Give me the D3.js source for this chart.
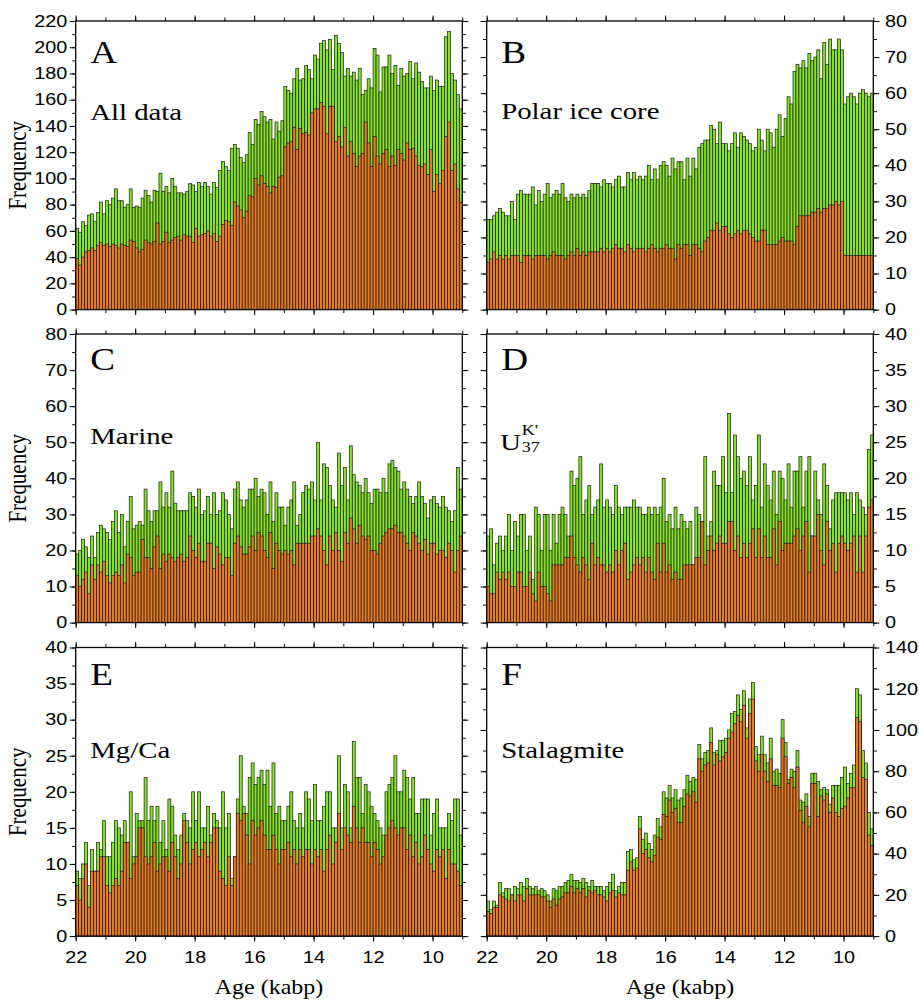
<!DOCTYPE html>
<html>
<head>
<meta charset="utf-8">
<script src="https://cdn.jsdelivr.net/npm/d3@7"></script>
<style>
  html, body { margin: 0; padding: 0; background: #ffffff; }
  svg { display: block; }
</style>
</head>
<body>
<svg id="chart" width="919" height="1000"></svg>
<script>
// ---------------- DATA ----------------
// 130 bins of 0.1 kyr, from 22 kabp (left) to 9 kabp (right)
const ageStart = 22, ageEnd = 9, binWidth = 0.1, binCount = 130;
const xTickLabels = [22, 20, 18, 16, 14, 12, 10];

// A  All data  (green = total, orange = subset)
const allDataTotal = [
  62, 59, 67, 64, 72, 73, 67, 74, 82, 73,
  83, 80, 85, 92, 83, 83, 78, 80, 92, 78,
  79, 78, 85, 91, 87, 82, 91, 90, 104, 90,
  94, 89, 100, 94, 89, 89, 88, 90, 96, 95,
  90, 97, 94, 97, 94, 88, 97, 93, 106, 113,
  109, 106, 123, 126, 123, 116, 112, 118, 135, 126,
  145, 141, 151, 147, 143, 145, 130, 143, 136, 144,
  170, 167, 165, 176, 184, 175, 176, 186, 183, 176,
  194, 191, 203, 205, 198, 206, 183, 209, 203, 196,
  178, 184, 178, 181, 175, 184, 164, 167, 176, 169,
  199, 194, 166, 185, 185, 194, 180, 186, 171, 184,
  178, 180, 189, 176, 188, 181, 174, 169, 169, 178,
  167, 175, 170, 170, 208, 212, 180, 175, 164, 153
];
const allDataOrange = [
  39, 34, 40, 44, 45, 47, 45, 49, 51, 49,
  50, 48, 50, 49, 47, 50, 49, 48, 53, 52,
  47, 44, 46, 53, 51, 50, 52, 66, 50, 52,
  59, 51, 53, 55, 56, 53, 57, 56, 56, 51,
  62, 56, 57, 58, 60, 56, 58, 52, 56, 65,
  68, 67, 64, 82, 79, 76, 70, 75, 87, 86,
  100, 95, 102, 96, 94, 89, 94, 93, 101, 102,
  124, 127, 128, 139, 122, 138, 134, 135, 133, 150,
  153, 153, 158, 155, 134, 155, 155, 128, 132, 124,
  139, 117, 128, 119, 109, 117, 119, 143, 127, 109,
  132, 117, 111, 119, 122, 109, 117, 110, 122, 119,
  114, 127, 122, 123, 117, 110, 109, 111, 103, 122,
  90, 103, 96, 106, 132, 143, 106, 111, 92, 82
];

// B  Polar ice core
const polarTotal = [
  25, 25, 26, 27, 28, 27, 26, 26, 30, 25,
  32, 33, 32, 32, 32, 34, 29, 33, 30, 32,
  35, 31, 32, 33, 32, 35, 31, 30, 32, 31,
  32, 31, 32, 31, 33, 35, 35, 35, 34, 36,
  35, 35, 34, 36, 37, 34, 34, 38, 36, 38,
  36, 37, 36, 37, 40, 36, 39, 36, 40, 41,
  40, 37, 42, 39, 41, 41, 36, 42, 37, 42,
  39, 45, 46, 47, 47, 51, 50, 46, 52, 46,
  46, 44, 46, 49, 45, 49, 48, 47, 46, 44,
  45, 50, 47, 44, 50, 49, 45, 50, 54, 48,
  53, 59, 57, 66, 68, 67, 69, 67, 71, 69,
  70, 72, 64, 74, 68, 75, 72, 72, 75, 72,
  57, 59, 60, 59, 57, 60, 61, 60, 59, 60
];
const polarOrange = [
  13, 14, 16, 14, 15, 14, 15, 14, 15, 15,
  15, 13, 15, 15, 15, 14, 15, 15, 15, 15,
  14, 15, 16, 15, 15, 15, 14, 15, 16, 15,
  17, 15, 16, 15, 16, 16, 16, 16, 17, 16,
  17, 16, 17, 18, 17, 17, 16, 18, 17, 16,
  17, 17, 17, 16, 17, 18, 17, 16, 17, 17,
  18, 17, 17, 14, 18, 17, 18, 18, 15, 18,
  18, 17, 16, 19, 20, 22, 22, 24, 22, 23,
  23, 21, 20, 21, 22, 21, 22, 22, 21, 20,
  19, 19, 22, 22, 18, 18, 18, 18, 19, 20,
  19, 19, 19, 18, 23, 26, 26, 26, 26, 27,
  27, 28, 27, 28, 28, 29, 29, 30, 29, 30,
  15, 15, 15, 15, 15, 15, 15, 15, 15, 15
];

// C  Marine
const marineTotal = [
  19, 20, 23, 21, 18, 24, 18, 25, 27, 26,
  25, 23, 28, 31, 25, 30, 21, 28, 35, 26,
  27, 28, 27, 37, 31, 28, 31, 31, 39, 32,
  36, 32, 42, 33, 31, 31, 31, 31, 36, 35,
  32, 37, 30, 31, 35, 30, 36, 30, 31, 36,
  34, 30, 26, 37, 39, 34, 32, 34, 37, 37,
  40, 35, 37, 36, 30, 39, 28, 36, 32, 32,
  27, 32, 34, 39, 27, 30, 36, 38, 37, 39,
  34, 50, 34, 44, 43, 38, 34, 32, 47, 38,
  43, 34, 49, 41, 39, 38, 36, 40, 36, 33,
  37, 37, 36, 40, 36, 44, 45, 43, 42, 37,
  39, 37, 35, 33, 35, 39, 35, 33, 29, 34,
  35, 33, 32, 35, 32, 31, 28, 31, 43, 37
];
const marineOrange = [
  13, 10, 12, 14, 8, 16, 12, 16, 14, 17,
  13, 11, 13, 14, 13, 16, 11, 19, 18, 13,
  14, 14, 23, 18, 18, 15, 21, 24, 15, 19,
  17, 19, 18, 17, 18, 19, 17, 18, 24, 20,
  18, 22, 17, 17, 22, 22, 15, 21, 19, 16,
  18, 18, 13, 22, 24, 21, 19, 19, 21, 24,
  20, 25, 24, 20, 18, 25, 15, 22, 20, 19,
  20, 19, 20, 16, 22, 22, 22, 22, 22, 24,
  24, 26, 24, 20, 16, 24, 20, 25, 20, 17,
  25, 22, 29, 26, 22, 27, 24, 23, 24, 20,
  20, 19, 22, 24, 25, 26, 26, 27, 25, 25,
  24, 22, 20, 25, 24, 22, 20, 23, 19, 22,
  22, 19, 20, 20, 18, 22, 20, 14, 20, 24
];

// D  U37K'
const uk37Total = [
  12, 13, 8, 11, 12, 10, 12, 15, 10, 14,
  12, 15, 15, 10, 12, 6, 16, 15, 10, 15,
  15, 10, 15, 11, 15, 16, 15, 12, 21, 19,
  20, 23, 15, 17, 19, 15, 16, 17, 22, 16,
  17, 16, 15, 19, 16, 15, 16, 16, 16, 17,
  16, 16, 15, 15, 16, 15, 16, 15, 16, 20,
  14, 15, 13, 16, 13, 15, 14, 13, 14, 8,
  16, 15, 14, 23, 12, 14, 21, 19, 19, 23,
  18, 29, 18, 26, 23, 20, 21, 19, 23, 17,
  19, 26, 16, 22, 19, 17, 21, 15, 21, 20,
  17, 22, 16, 21, 21, 23, 16, 21, 23, 12,
  21, 17, 15, 22, 19, 13, 17, 18, 18, 18,
  18, 17, 18, 15, 18, 17, 16, 15, 24, 26
];
const uk37Orange = [
  5, 4, 4, 7, 6, 7, 6, 7, 5, 5,
  7, 7, 5, 5, 7, 4, 3, 7, 5, 5,
  4, 3, 8, 8, 8, 8, 9, 9, 12, 9,
  8, 7, 9, 8, 6, 11, 8, 9, 8, 8,
  7, 8, 7, 10, 8, 10, 11, 6, 7, 8,
  9, 8, 9, 7, 9, 7, 6, 11, 7, 11,
  7, 8, 6, 7, 6, 6, 8, 8, 8, 8,
  9, 9, 14, 8, 10, 12, 10, 11, 12, 11,
  11, 14, 14, 10, 12, 9, 11, 9, 11, 13,
  9, 13, 9, 12, 9, 9, 13, 8, 14, 10,
  11, 11, 11, 12, 13, 10, 12, 14, 7, 12,
  12, 15, 10, 8, 14, 10, 11, 7, 11, 12,
  11, 10, 11, 12, 7, 12, 7, 12, 16, 17
];

// E  Mg/Ca
const mgcaTotal = [
  9, 8, 10, 13, 7, 12, 9, 13, 12, 16,
  11, 11, 13, 16, 15, 14, 16, 13, 20, 11,
  17, 16, 16, 22, 16, 18, 16, 18, 13, 16,
  12, 19, 18, 14, 12, 14, 17, 16, 15, 20,
  16, 20, 15, 15, 18, 14, 17, 16, 15, 20,
  15, 17, 8, 11, 19, 25, 18, 17, 22, 24,
  21, 22, 23, 21, 23, 18, 24, 17, 18, 16,
  16, 18, 20, 16, 15, 17, 15, 20, 19, 16,
  21, 16, 16, 18, 20, 20, 15, 15, 25, 15,
  21, 20, 15, 27, 22, 22, 17, 21, 20, 18,
  17, 16, 15, 14, 20, 21, 22, 25, 20, 20,
  23, 22, 19, 22, 17, 17, 19, 19, 19, 14,
  17, 19, 15, 15, 15, 17, 16, 19, 19, 14
];
const mgcaOrange = [
  7, 5, 8, 10, 4, 9, 9, 9, 11, 11,
  7, 6, 7, 8, 7, 9, 13, 13, 8, 10,
  11, 15, 15, 11, 10, 11, 13, 9, 10, 11,
  11, 9, 13, 11, 8, 10, 16, 13, 10, 12,
  13, 11, 12, 13, 11, 13, 15, 15, 9, 8,
  7, 11, 7, 11, 17, 16, 17, 14, 10, 16,
  14, 15, 16, 14, 12, 12, 14, 12, 10, 12,
  12, 13, 11, 12, 10, 12, 11, 12, 12, 10,
  12, 11, 12, 9, 12, 14, 10, 13, 17, 12,
  15, 14, 13, 18, 15, 13, 15, 13, 13, 11,
  13, 12, 10, 11, 14, 15, 16, 15, 14, 15,
  15, 12, 14, 11, 13, 10, 11, 14, 12, 10,
  9, 12, 11, 12, 8, 12, 10, 10, 9, 7
];

// F  Stalagmite
const stalagTotal = [
  17, 13, 17, 15, 26, 21, 23, 23, 20, 24,
  23, 26, 24, 28, 24, 23, 24, 22, 23, 22,
  20, 17, 23, 22, 24, 24, 26, 27, 30, 27,
  27, 26, 28, 26, 24, 27, 24, 24, 24, 22,
  24, 26, 30, 22, 24, 26, 26, 41, 42, 37,
  38, 58, 47, 50, 45, 42, 49, 57, 53, 70,
  67, 73, 67, 71, 66, 67, 71, 78, 75, 77,
  76, 93, 86, 89, 90, 101, 89, 90, 95, 95,
  96, 100, 108, 109, 117, 110, 119, 101, 115, 123,
  92, 88, 97, 88, 84, 96, 80, 81, 79, 105,
  94, 76, 81, 80, 90, 66, 65, 69, 58, 79,
  79, 75, 71, 72, 71, 64, 73, 73, 73, 77,
  82, 74, 79, 83, 120, 117, 90, 84, 60, 52
];
const stalagOrange = [
  12, 11, 14, 14, 20, 19, 18, 17, 20, 17,
  20, 20, 17, 23, 20, 20, 20, 20, 19, 19,
  17, 14, 18, 15, 18, 19, 21, 21, 24, 21,
  23, 21, 23, 19, 22, 21, 22, 20, 20, 19,
  17, 21, 22, 19, 21, 20, 20, 32, 36, 32,
  33, 52, 40, 42, 38, 36, 39, 48, 47, 59,
  58, 66, 60, 62, 55, 55, 63, 69, 68, 70,
  65, 86, 80, 83, 84, 94, 83, 88, 85, 87,
  89, 96, 99, 103, 107, 104, 112, 96, 108, 115,
  85, 80, 88, 80, 75, 86, 73, 73, 72, 96,
  87, 74, 77, 72, 82, 61, 55, 63, 53, 74,
  74, 58, 68, 66, 69, 60, 67, 60, 58, 62,
  63, 67, 72, 72, 106, 104, 77, 76, 49, 44
];

// y tick labels per panel
const yTicksA = [0, 20, 40, 60, 80, 100, 120, 140, 160, 180, 200, 220];
const yTicksB = [0, 10, 20, 30, 40, 50, 60, 70, 80];
const yTicksC = [0, 10, 20, 30, 40, 50, 60, 70, 80];
const yTicksD = [0, 5, 10, 15, 20, 25, 30, 35, 40];
const yTicksE = [0, 5, 10, 15, 20, 25, 30, 35, 40];
const yTicksF = [0, 20, 40, 60, 80, 100, 120, 140];

// ---------------- LAYOUT / STYLE ----------------
const GREEN = "#84e324", ORANGE = "#ea7a20", STROKE = "#1c1c1c";
const SX = 1.2;   // horizontal stretch of the lettering
const sans = "'Liberation Sans', Arial, Helvetica, sans-serif";
const serif = "'Liberation Serif', 'Times New Roman', Times, serif";
const colLeft = [75.7, 486.7], panelW = 386.6;
const rowTop = [21, 334, 647.5], panelH = 288.6;

const panels = [
  { letter: "A", title: "All data",       col: 0, row: 0, ticks: yTicksA, minor: 10,  total: allDataTotal, part: allDataOrange, letterY: 63,  titleY: 119.5 },
  { letter: "B", title: "Polar ice core", col: 1, row: 0, ticks: yTicksB, minor: 5,   total: polarTotal,   part: polarOrange,   letterY: 63,  titleY: 119 },
  { letter: "C", title: "Marine",         col: 0, row: 1, ticks: yTicksC, minor: 5,   total: marineTotal,  part: marineOrange,  letterY: 370, titleY: 443.5 },
  { letter: "D", title: null,             col: 1, row: 1, ticks: yTicksD, minor: 2.5, total: uk37Total,    part: uk37Orange,    letterY: 370, titleY: 449.5 },
  { letter: "E", title: "Mg/Ca",          col: 0, row: 2, ticks: yTicksE, minor: 2.5, total: mgcaTotal,    part: mgcaOrange,    letterY: 685, titleY: 757.5 },
  { letter: "F", title: "Stalagmite",     col: 1, row: 2, ticks: yTicksF, minor: 10,  total: stalagTotal,  part: stalagOrange,  letterY: 685, titleY: 757.5 }
];

const svg = d3.select("#chart");
const binStarts = d3.range(binCount).map(i => ageStart - i * binWidth);

function stretchedText(parent, x, y, str, size, family, anchor) {
  return parent.append("text")
    .attr("transform", `translate(${x},${y}) scale(${SX},1)`)
    .attr("font-family", family)
    .attr("font-size", size)
    .attr("text-anchor", anchor || "start")
    .attr("fill", "#000")
    .text(str);
}

function styleAxis(ax) {
  ax.select(".domain").remove();
  ax.selectAll(".tick line").attr("stroke", "#000").attr("stroke-width", 1);
  ax.attr("font-family", sans).attr("font-size", 16.5);
  ax.selectAll(".tick text").attr("fill", "#000");
}

panels.forEach(p => {
  const x0 = colLeft[p.col], y0 = rowTop[p.row];
  const x = d3.scaleLinear().domain([ageStart, ageEnd]).range([x0, x0 + panelW]);
  const yMax = p.ticks[p.ticks.length - 1];
  const y = d3.scaleLinear().domain([0, yMax]).range([y0 + panelH, y0]);
  const rows = binStarts.map((a, i) => ({ a, t: p.total[i], s: p.part[i] }));
  const g = svg.append("g");

  // bars: total (green) then subset (orange) on top
  g.selectAll("rect.total").data(rows).join("rect")
    .attr("class", "total")
    .attr("x", d => x(d.a)).attr("width", d => x(d.a - binWidth) - x(d.a))
    .attr("y", d => y(d.t)).attr("height", d => y(0) - y(d.t))
    .attr("fill", GREEN).attr("stroke", STROKE).attr("stroke-width", 0.7);
  g.selectAll("rect.part").data(rows).join("rect")
    .attr("class", "part")
    .attr("x", d => x(d.a)).attr("width", d => x(d.a - binWidth) - x(d.a))
    .attr("y", d => y(d.s)).attr("height", d => y(0) - y(d.s))
    .attr("fill", ORANGE).attr("stroke", STROKE).attr("stroke-width", 0.7);

  // frame
  g.append("rect").attr("x", x0).attr("y", y0).attr("width", panelW).attr("height", panelH)
    .attr("fill", "none").attr("stroke", "#000").attr("stroke-width", 1.3);

  // y axes
  const yMinor = d3.range(0, yMax + 1e-9, p.minor);
  [["L", x0], ["R", x0 + panelW]].forEach(([side, xp]) => {
    const gen = side === "L" ? d3.axisLeft : d3.axisRight;
    const mn = g.append("g").attr("transform", `translate(${xp},0)`)
      .call(gen(y).tickValues(yMinor).tickSize(3.5).tickSizeOuter(0).tickFormat(""));
    styleAxis(mn);
    const labelled = (side === "L" && p.col === 0) || (side === "R" && p.col === 1);
    const mj = g.append("g").attr("transform", `translate(${xp},0)`)
      .call(gen(y).tickValues(p.ticks).tickSize(6).tickSizeOuter(0)
        .tickFormat(labelled ? d3.format("d") : ""));
    styleAxis(mj);
    if (labelled) {
      mj.selectAll(".tick text")
        .attr("transform", `scale(${SX},1)`)
        .attr("x", side === "L" ? -8.4 / SX : 11.7 / SX);
    }
  });

  // x axes
  const xMinor = d3.range(ageEnd, ageStart + 1e-9, 1);
  [["T", y0], ["B", y0 + panelH]].forEach(([side, yp]) => {
    const gen = side === "T" ? d3.axisTop : d3.axisBottom;
    const mn = g.append("g").attr("transform", `translate(0,${yp})`)
      .call(gen(x).tickValues(xMinor).tickSize(3.5).tickSizeOuter(0).tickFormat(""));
    styleAxis(mn);
    const labelled = side === "B" && p.row === 2;
    const mj = g.append("g").attr("transform", `translate(0,${yp})`)
      .call(gen(x).tickValues(xTickLabels).tickSize(5.5).tickSizeOuter(0)
        .tickFormat(labelled ? d3.format("d") : ""));
    styleAxis(mj);
    if (labelled) {
      mj.selectAll(".tick text")
        .attr("transform", `scale(${SX},1)`)
        .attr("y", 26.5).attr("dy", 0);
    }
  });

  // panel letter and title
  stretchedText(g, x0 + 14.5, p.letterY, p.letter, 31, serif);
  if (p.title) {
    stretchedText(g, x0 + 14.5, p.titleY, p.title, 24, serif);
  } else {
    // U with subscript 37 and superscript K'
    stretchedText(g, x0 + 13.5, p.titleY, "U", 24, serif);
    stretchedText(g, x0 + 35, p.titleY + 2.3, "37", 15, serif);
    stretchedText(g, x0 + 35, p.titleY - 14.5, "K'", 15, serif);
  }

  // axis titles
  if (p.col === 0) {
    g.append("text")
      .attr("transform", `translate(17,${y0 + panelH / 2}) scale(${SX},1) rotate(-90)`)
      .attr("font-family", serif).attr("font-size", 21)
      .attr("text-anchor", "middle").attr("dominant-baseline", "central")
      .attr("fill", "#000").text("Frequency");
  }
  if (p.row === 2) {
    stretchedText(g, x0 + panelW / 2, 994, "Age (kabp)", 20, serif, "middle");
  }
});
</script>
</body>
</html>
